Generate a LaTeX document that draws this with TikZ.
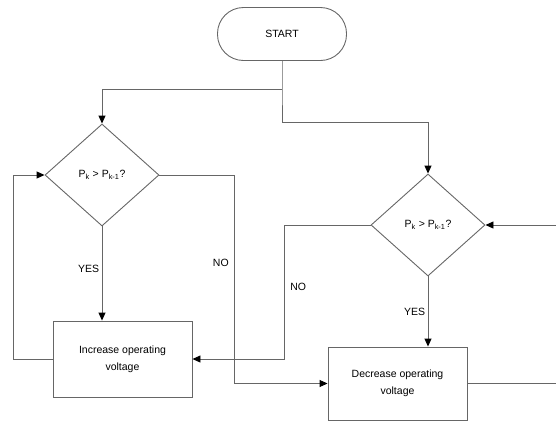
\documentclass[tikz,border=0pt]{standalone}
\usepackage{fontspec}
\setmainfont{Liberation Sans}
\usetikzlibrary{shapes.geometric,arrows.meta}

\begin{document}
\begin{tikzpicture}[x=1pt,y=-1pt,
		line/.style={draw=black!60, line width=0.9pt},
		arr/.style={line, -{Triangle[length=8pt,width=7pt,color=black]}},
		startstop/.style={rectangle, rounded corners=26pt, draw=black!60, line width=0.9pt, minimum width=129pt, minimum height=53pt, font=\fontsize{10.5}{12}\selectfont},
		decision/.style={diamond, draw=black!60, line width=0.9pt, minimum width=114pt, minimum height=102pt, inner sep=0pt, font=\fontsize{10.5}{12}\selectfont},
		process/.style={rectangle, draw=black!60, line width=0.9pt, minimum width=139pt, align=center, font=\fontsize{10.5}{17}\selectfont},
		lbl/.style={font=\fontsize{10.5}{12}\selectfont}]
		\useasboundingbox (0,0) rectangle (556,421);
		% boxes
		\node[startstop] (start) at (282,34) {START};
		\node[decision] (d1) at (102,175) {P\textsubscript{k} > P\textsubscript{k-1}?};
		\node[decision] (d2) at (428,225) {P\textsubscript{k} > P\textsubscript{k-1}?};
		\node[process, minimum height=76pt] (inc) at (122.5,359) {Increase operating\\voltage};
		\node[process, minimum height=73pt] (dec) at (397.5,383.5) {Decrease operating\\voltage};
		% junctions and loose ends
		\coordinate (j1) at (282,89);
		\coordinate (j2) at (282,122);
		\coordinate (rin) at (556,225);
		\coordinate (rout) at (556,383.5);
		% connectors
		\draw[line] (start) -- (j1) -- (j2);
		\draw[arr] (j1) -| (d1.north);
		\draw[arr] (j2) -| (d2.north);
		\draw[arr] (d1.south) -- (d1.south |- inc.north) node[lbl, pos=0.45, left=-1pt] {YES};
		\draw[arr] (inc.west) -- ++(-39,0) |- (d1.west);
		\draw[arr] (d1.east) -- ++(75,0) |- (dec.west) node[lbl, pos=0.21, left=2pt] {NO};
		\draw[arr] (d2.west) -- ++(-86,0) |- (inc.east) node[lbl, pos=0.23, right=2pt] {NO};
		\draw[arr] (d2.south) -- (d2.south |- dec.north) node[lbl, pos=0.5, left=-1pt] {YES};
		\draw[line] (dec.east) -- (rout);
		\draw[arr] (rin) -- (d2.east);
	\end{tikzpicture}
\end{document}
